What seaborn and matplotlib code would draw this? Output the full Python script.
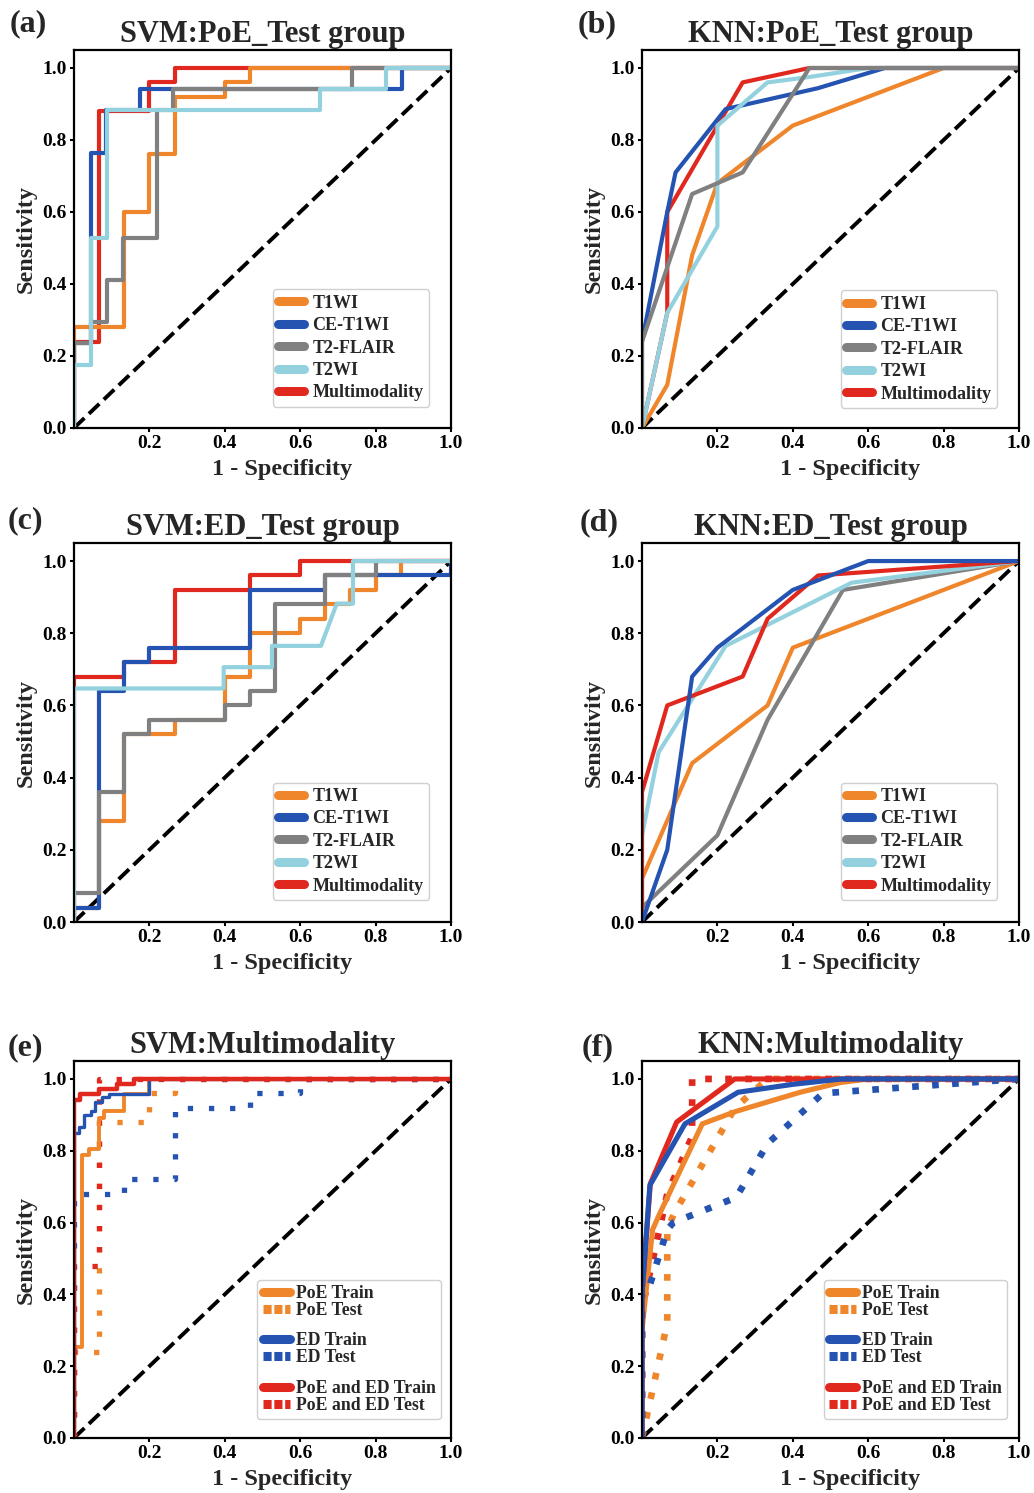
import numpy as np
import pandas as pd
import matplotlib
matplotlib.use('Agg')
import matplotlib.pyplot as plt
import seaborn as sns
from matplotlib.lines import Line2D

sns.set_style('white')
plt.rcParams['font.family'] = ['Liberation Serif', 'DejaVu Serif']
plt.rcParams['font.weight'] = 'bold'
plt.rcParams['axes.labelweight'] = 'bold'
plt.rcParams['axes.titleweight'] = 'bold'

ORANGE = '#F0862B'
BLUE = '#2553B2'
GRAY = '#808080'
CYAN = '#93D1DF'
RED = '#E1281F'

modality_names = ['T1WI', 'CE-T1WI', 'T2-FLAIR', 'T2WI', 'Multimodality']
group_names = ['PoE Train', 'PoE Test', 'ED Train', 'ED Test', 'PoE and ED Train', 'PoE and ED Test']
x_ticks = [0.2, 0.4, 0.6, 0.8, 1.0]
y_ticks = [0.0, 0.2, 0.4, 0.6, 0.8, 1.0]
titles = ['SVM:PoE_Test group', 'KNN:PoE_Test group', 'SVM:ED_Test group',
          'KNN:ED_Test group', 'SVM:Multimodality', 'KNN:Multimodality']
panel_tags = ['(a)', '(b)', '(c)', '(d)', '(e)', '(f)']

# ---- (a) SVM PoE test ----
a_t1_fpr = [0, 0, 0.133, 0.133, 0.2, 0.2, 0.267, 0.267, 0.4, 0.4, 0.467, 0.467, 1]
a_t1_tpr = [0, 0.28, 0.28, 0.6, 0.6, 0.76, 0.76, 0.92, 0.92, 0.96, 0.96, 1, 1]
a_ce_fpr = [0, 0, 0.045, 0.045, 0.085, 0.085, 0.176, 0.176, 0.87, 0.87, 1]
a_ce_tpr = [0, 0.235, 0.235, 0.765, 0.765, 0.882, 0.882, 0.941, 0.941, 1, 1]
a_fl_fpr = [0, 0, 0.045, 0.045, 0.087, 0.087, 0.131, 0.131, 0.22, 0.22, 0.262, 0.262, 0.738, 0.738, 1]
a_fl_tpr = [0, 0.235, 0.235, 0.294, 0.294, 0.412, 0.412, 0.529, 0.529, 0.882, 0.882, 0.941, 0.941, 1, 1]
a_t2_fpr = [0, 0, 0.045, 0.045, 0.087, 0.087, 0.653, 0.653, 0.827, 0.827, 1]
a_t2_tpr = [0, 0.176, 0.176, 0.529, 0.529, 0.882, 0.882, 0.941, 0.941, 1, 1]
a_mm_fpr = [0, 0, 0.067, 0.067, 0.2, 0.2, 0.267, 0.267, 1]
a_mm_tpr = [0, 0.24, 0.24, 0.88, 0.88, 0.96, 0.96, 1, 1]

# ---- (b) KNN PoE test ----
b_t1_fpr = [0, 0.067, 0.133, 0.2, 0.4, 0.8, 1]
b_t1_tpr = [0, 0.12, 0.48, 0.68, 0.84, 1, 1]
b_ce_fpr = [0, 0, 0.067, 0.089, 0.222, 0.467, 0.644, 1]
b_ce_tpr = [0, 0.24, 0.6, 0.71, 0.886, 0.944, 1, 1]
b_fl_fpr = [0, 0, 0.133, 0.267, 0.444, 1]
b_fl_tpr = [0, 0.24, 0.65, 0.71, 1, 1]
b_t2_fpr = [0, 0.067, 0.2, 0.2, 0.333, 0.444, 0.6, 1]
b_t2_tpr = [0, 0.32, 0.56, 0.84, 0.96, 0.975, 1, 1]
b_mm_fpr = [0, 0.067, 0.067, 0.267, 0.444, 1]
b_mm_tpr = [0, 0.32, 0.6, 0.96, 1, 1]

# ---- (c) SVM ED test ----
c_t1_fpr = [0, 0, 0.067, 0.067, 0.133, 0.133, 0.267, 0.267, 0.4, 0.4, 0.467, 0.467, 0.6, 0.6,
            0.667, 0.667, 0.733, 0.733, 0.8, 0.8, 0.867, 0.867, 1]
c_t1_tpr = [0, 0.04, 0.04, 0.28, 0.28, 0.52, 0.52, 0.56, 0.56, 0.68, 0.68, 0.8, 0.8, 0.84,
            0.84, 0.88, 0.88, 0.92, 0.92, 0.96, 0.96, 1, 1]
c_ce_fpr = [0, 0, 0.067, 0.067, 0.133, 0.133, 0.2, 0.2, 0.467, 0.467, 0.667, 0.667, 1, 1]
c_ce_tpr = [0, 0.04, 0.04, 0.64, 0.64, 0.72, 0.72, 0.76, 0.76, 0.92, 0.92, 0.96, 0.96, 1]
c_fl_fpr = [0, 0, 0.067, 0.067, 0.133, 0.133, 0.2, 0.2, 0.4, 0.4, 0.467, 0.467, 0.533, 0.533,
            0.667, 0.667, 0.8, 0.8, 1]
c_fl_tpr = [0, 0.08, 0.08, 0.36, 0.36, 0.52, 0.52, 0.56, 0.56, 0.6, 0.6, 0.64, 0.64, 0.88,
            0.88, 0.96, 0.96, 1, 1]
c_t2_fpr = [0, 0, 0.397, 0.397, 0.525, 0.525, 0.655, 0.697, 0.74, 0.74, 1]
c_t2_tpr = [0, 0.647, 0.647, 0.706, 0.706, 0.765, 0.765, 0.882, 0.882, 1, 1]
c_mm_fpr = [0, 0, 0.133, 0.133, 0.267, 0.267, 0.467, 0.467, 0.6, 0.6, 1]
c_mm_tpr = [0, 0.68, 0.68, 0.72, 0.72, 0.92, 0.92, 0.96, 0.96, 1, 1]

# ---- (d) KNN ED test ----
d_t1_fpr = [0, 0, 0.133, 0.333, 0.4, 1]
d_t1_tpr = [0, 0.12, 0.44, 0.6, 0.76, 1]
d_ce_fpr = [0, 0.067, 0.133, 0.2, 0.4, 0.6, 1]
d_ce_tpr = [0, 0.2, 0.68, 0.76, 0.92, 1, 1]
d_fl_fpr = [0, 0, 0.2, 0.333, 0.533, 1]
d_fl_tpr = [0, 0.04, 0.24, 0.56, 0.92, 1]
d_t2_fpr = [0, 0, 0.044, 0.222, 0.556, 1]
d_t2_tpr = [0, 0.24, 0.47, 0.765, 0.94, 1]
d_mm_fpr = [0, 0, 0.067, 0.267, 0.333, 0.467, 1]
d_mm_tpr = [0, 0.36, 0.6, 0.68, 0.84, 0.96, 1]

# ---- (e) SVM multimodality ----
e_poe_tr_fpr = [0, 0, 0.022, 0.022, 0.04, 0.04, 0.066, 0.066, 0.08, 0.08, 0.133, 0.133, 0.2, 0.2, 1]
e_poe_tr_tpr = [0, 0.254, 0.254, 0.787, 0.787, 0.806, 0.806, 0.89, 0.89, 0.912, 0.912, 0.958, 0.958, 1, 1]
e_poe_te_fpr = [0, 0, 0.067, 0.067, 0.2, 0.2, 0.267, 0.267, 1]
e_poe_te_tpr = [0, 0.24, 0.24, 0.88, 0.88, 0.96, 0.96, 1, 1]
e_ed_tr_fpr = [0, 0, 0.013, 0.013, 0.026, 0.026, 0.044, 0.044, 0.057, 0.057, 0.075, 0.075,
               0.093, 0.093, 0.2, 0.2, 1]
e_ed_tr_tpr = [0, 0.85, 0.85, 0.866, 0.866, 0.9, 0.9, 0.912, 0.912, 0.935, 0.935, 0.949,
               0.949, 0.958, 0.958, 1, 1]
e_ed_te_fpr = [0, 0, 0.133, 0.133, 0.267, 0.267, 0.467, 0.467, 0.6, 0.6, 1]
e_ed_te_tpr = [0, 0.68, 0.68, 0.72, 0.72, 0.92, 0.92, 0.96, 0.96, 1, 1]
e_all_tr_fpr = [0, 0, 0.017, 0.017, 0.066, 0.066, 0.115, 0.115, 0.16, 0.16, 1]
e_all_tr_tpr = [0, 0.94, 0.94, 0.958, 0.958, 0.972, 0.972, 0.986, 0.986, 1, 1]
e_all_te_fpr = [0, 0, 0.067, 0.067, 1]
e_all_te_tpr = [0, 0.48, 0.48, 1, 1]

# ---- (f) KNN multimodality ----
f_poe_tr_fpr = [0, 0, 0.028, 0.047, 0.16, 0.25, 0.42, 0.526, 0.6, 1]
f_poe_tr_tpr = [0, 0.3, 0.58, 0.625, 0.875, 0.91, 0.963, 0.99, 1, 1]
f_poe_te_fpr = [0, 0.067, 0.067, 0.085, 0.247, 0.333, 1]
f_poe_te_tpr = [0, 0.32, 0.58, 0.625, 0.92, 1, 1]
f_ed_tr_fpr = [0, 0, 0.021, 0.114, 0.255, 0.4, 0.53, 1]
f_ed_tr_tpr = [0, 0.4, 0.704, 0.875, 0.963, 0.985, 1, 1]
f_ed_te_fpr = [0, 0, 0.013, 0.067, 0.083, 0.25, 0.333, 0.48, 1]
f_ed_te_tpr = [0, 0.4, 0.4, 0.58, 0.6, 0.67, 0.82, 0.96, 1]
f_all_tr_fpr = [0, 0, 0.022, 0.092, 0.246, 1]
f_all_tr_tpr = [0, 0.4, 0.708, 0.88, 1, 1]
f_all_te_fpr = [0, 0, 0.067, 0.133, 0.133, 1]
f_all_te_tpr = [0, 0.36, 0.68, 0.84, 1, 1]

mod_colors = [ORANGE, BLUE, GRAY, CYAN, RED]
grp_colors = [ORANGE, ORANGE, BLUE, BLUE, RED, RED]
DOT_LEG = (0, (0.9, 0.3))


def curve(ax, fpr, tpr, color, lw, ls='-', z=2):
    df = pd.DataFrame({'fpr': fpr, 'tpr': tpr})
    sns.lineplot(data=df, x='fpr', y='tpr', ax=ax, color=color, lw=lw, linestyle=ls,
                 estimator=None, sort=False, zorder=z, legend=False)


def style_ax(ax, title):
    diag = pd.DataFrame({'x': [0, 1], 'y': [0, 1]})
    sns.lineplot(data=diag, x='x', y='y', ax=ax, color='black', lw=2.8, linestyle='--',
                 estimator=None, sort=False, zorder=1.5, legend=False)
    ax.set_xlim(0, 1)
    ax.set_ylim(0, 1.05)
    ax.set_xticks(x_ticks)
    ax.set_xticklabels([f'{v:.1f}' for v in x_ticks])
    ax.set_yticks(y_ticks)
    ax.set_yticklabels([f'{v:.1f}' for v in y_ticks])
    ax.set_title(title, fontsize=22, fontweight='bold', pad=6)
    ax.set_xlabel('1 - Specificity', fontsize=17.5, fontweight='bold', labelpad=5)
    ax.xaxis.label.set_x(0.553)
    ax.set_ylabel('Sensitivity', fontsize=17.5, fontweight='bold', labelpad=4)
    for s in ax.spines.values():
        s.set_color('black')
        s.set_linewidth(1.6)
        s.set_visible(True)
    ax.tick_params(direction='out', length=3, width=1.5, labelsize=14, pad=2,
                   left=True, bottom=True, colors='black')
    for lab in ax.get_xticklabels() + ax.get_yticklabels():
        lab.set_fontweight('bold')


def mod_legend(ax, anchor):
    handles = [Line2D([0], [0], color=c, lw=6.5) for c in mod_colors]
    leg = ax.legend(handles, modality_names, loc='lower right', bbox_to_anchor=anchor,
                    borderaxespad=0, prop={'weight': 'bold', 'size': 13},
                    handlelength=1.45, handletextpad=0.45, labelspacing=0.3,
                    borderpad=0.3, frameon=True, framealpha=1, edgecolor='#d0d0d0')
    leg.get_frame().set_linewidth(1.0)


def grp_legend(ax, anchor):
    handles, labels = [], []
    for i, (name, c) in enumerate(zip(group_names, grp_colors)):
        if i in (2, 4):
            handles.append(Line2D([], [], linestyle='none'))
            labels.append('')
        ls = '-' if i % 2 == 0 else DOT_LEG
        handles.append(Line2D([0], [0], color=c, lw=6.5, linestyle=ls))
        labels.append(name)
    leg = ax.legend(handles, labels, loc='lower right', bbox_to_anchor=anchor,
                    borderaxespad=0, prop={'weight': 'bold', 'size': 12.8},
                    handlelength=1.55, handletextpad=0.3, labelspacing=0.0,
                    borderpad=0.3, frameon=True, framealpha=1, edgecolor='#d0d0d0')
    leg.get_frame().set_linewidth(1.0)
    for t in leg.get_texts():
        if t.get_text() == '':
            t.set_fontsize(3)


fig = plt.figure(figsize=(10.34, 14.93), dpi=100)
W = 377 / 1034
lefts = [74 / 1034, 642 / 1034]
rows = [(1 - 428 / 1493, 378 / 1493), (1 - 922 / 1493, 379 / 1493), (1 - 1438 / 1493, 377 / 1493)]
axes = []
for r in range(3):
    for c in range(2):
        axes.append(fig.add_axes([lefts[c], rows[r][0], W, rows[r][1]]))

LW = 3.0
# (a)
ax = axes[0]
curve(ax, a_mm_fpr, a_mm_tpr, RED, LW, z=2.0)
curve(ax, a_t1_fpr, a_t1_tpr, ORANGE, LW, z=2.1)
curve(ax, a_ce_fpr, a_ce_tpr, BLUE, LW, z=2.2)
curve(ax, a_fl_fpr, a_fl_tpr, GRAY, LW, z=2.3)
curve(ax, a_t2_fpr, a_t2_tpr, CYAN, LW, z=2.4)
style_ax(ax, titles[0])
mod_legend(ax, (0.942, 0.056))

# (b)
ax = axes[1]
curve(ax, b_mm_fpr, b_mm_tpr, RED, LW, z=2.0)
curve(ax, b_t1_fpr, b_t1_tpr, ORANGE, LW, z=2.1)
curve(ax, b_ce_fpr, b_ce_tpr, BLUE, LW, z=2.2)
curve(ax, b_t2_fpr, b_t2_tpr, CYAN, LW, z=2.3)
curve(ax, b_fl_fpr, b_fl_tpr, GRAY, LW, z=2.4)
style_ax(ax, titles[1])
mod_legend(ax, (0.942, 0.053))

# (c)
ax = axes[2]
curve(ax, c_mm_fpr, c_mm_tpr, RED, LW, z=2.0)
curve(ax, c_t1_fpr, c_t1_tpr, ORANGE, LW, z=2.1)
curve(ax, c_ce_fpr, c_ce_tpr, BLUE, LW, z=2.2)
curve(ax, c_fl_fpr, c_fl_tpr, GRAY, LW, z=2.3)
curve(ax, c_t2_fpr, c_t2_tpr, CYAN, LW, z=2.4)
style_ax(ax, titles[2])
mod_legend(ax, (0.942, 0.058))

# (d)
ax = axes[3]
curve(ax, d_t1_fpr, d_t1_tpr, ORANGE, LW, z=2.0)
curve(ax, d_fl_fpr, d_fl_tpr, GRAY, LW, z=2.1)
curve(ax, d_t2_fpr, d_t2_tpr, CYAN, LW, z=2.2)
curve(ax, d_mm_fpr, d_mm_tpr, RED, LW, z=2.3)
curve(ax, d_ce_fpr, d_ce_tpr, BLUE, LW, z=2.4)
style_ax(ax, titles[3])
mod_legend(ax, (0.942, 0.058))

# (e)
ax = axes[4]
DOT_E = (0, (1, 3))
curve(ax, e_poe_te_fpr, e_poe_te_tpr, ORANGE, 3.8, DOT_E, z=2.0)
curve(ax, e_ed_te_fpr, e_ed_te_tpr, BLUE, 3.8, DOT_E, z=2.1)
curve(ax, e_all_te_fpr, e_all_te_tpr, RED, 3.8, DOT_E, z=2.2)
curve(ax, e_poe_tr_fpr, e_poe_tr_tpr, ORANGE, 2.8, z=2.3)
curve(ax, e_ed_tr_fpr, e_ed_tr_tpr, BLUE, 2.4, z=2.4)
curve(ax, e_all_tr_fpr, e_all_tr_tpr, RED, 3.2, z=2.5)
style_ax(ax, titles[4])
grp_legend(ax, (0.973, 0.05))

# (f)
ax = axes[5]
DOT_F = (0, (1, 2))
curve(ax, f_poe_te_fpr, f_poe_te_tpr, ORANGE, 4.8, DOT_F, z=2.0)
curve(ax, f_all_te_fpr, f_all_te_tpr, RED, 4.8, DOT_F, z=2.1)
curve(ax, f_poe_tr_fpr, f_poe_tr_tpr, ORANGE, 3.7, z=2.2)
curve(ax, f_ed_te_fpr, f_ed_te_tpr, BLUE, 4.8, DOT_F, z=2.3)
curve(ax, f_all_tr_fpr, f_all_tr_tpr, RED, 3.7, z=2.4)
curve(ax, f_ed_tr_fpr, f_ed_tr_tpr, BLUE, 3.7, z=2.5)
style_ax(ax, titles[5])
grp_legend(ax, (0.968, 0.05))

# panel tags
tag_pos = [(10, 24), (578, 25), (8, 521), (580, 523), (8, 1048), (582, 1048)]
for tag, (px, py) in zip(panel_tags, tag_pos):
    fig.text(px / 1034, 1 - py / 1493, tag, fontsize=23, fontweight='bold',
             ha='left', va='center')

fig.savefig('out.png', dpi=100)
